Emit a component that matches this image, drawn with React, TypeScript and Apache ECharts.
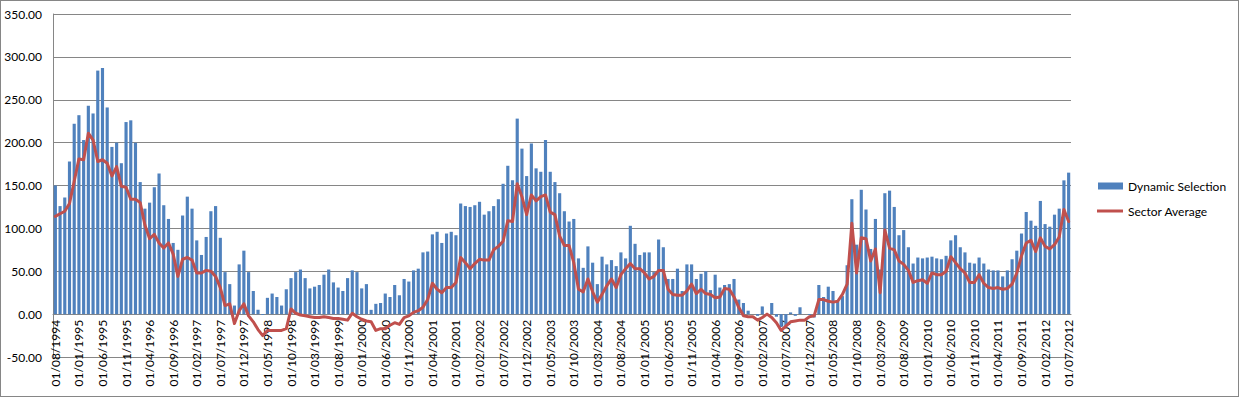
import React, { useEffect, useRef } from "react";
import * as echarts from "echarts";

// Monthly categories from 01/08/1994 to 01/07/2012
const START_YEAR = 1994;
const START_MONTH = 8;
const MONTH_COUNT = 216;
const categories: string[] = [];
for (let i = 0; i < MONTH_COUNT; i++) {
  const m0 = START_MONTH - 1 + i;
  const y = START_YEAR + Math.floor(m0 / 12);
  const m = (m0 % 12) + 1;
  categories.push(`01/${m < 10 ? "0" + m : m}/${y}`);
}

const dynamicSelection: number[] = [
  // 1994-1996
  150, 126, 136, 178, 222, 232, 203, 243, 234, 284, 287, 241, 195, 200, 176, 224, 226, 200, 154, 123, 130, 148, 164, 127, 111, 83,
  // 1996-1998
  75, 115, 137, 123, 86, 69, 90, 120, 126, 89, 49, 35, 10, 58, 74, 49, 27, 5, -1, 19, 24, 20, 10, 29, 42, 49,
  // 1998-2000
  52, 42, 30, 32, 34, 46, 52, 37, 31, 27, 42, 51, 49, 30, 35, 5, 12, 13, 24, 20, 34, 22, 41, 38, 51, 53,
  // 2001-2003
  72, 73, 93, 96, 83, 94, 96, 92, 129, 126, 125, 127, 131, 116, 120, 126, 134, 152, 173, 156, 228, 193, 161, 199, 170, 166,
  // 2003-2005
  203, 166, 154, 141, 120, 108, 111, 65, 54, 79, 60, 35, 67, 58, 63, 56, 72, 65, 103, 82, 69, 72, 72, 49, 87, 78,
  // 2005-2006
  41, 41, 53, 27, 58, 58, 41, 47, 50, 28, 46, 31, 34, 35, 41, 17,
  // 2006-2007
  13, 4, 0, -2, 9, -2, 13, -3, -15, -14, 2, -2, 8, 0, -1, -4,
  // 2007-2009
  34, 20, 32, 27, 15, 21, 57, 134, 81, 145, 122, 76, 111, 52, 141, 144, 125, 92, 98, 78,
  // 2009-2012
  59, 66, 65, 66, 67, 65, 64, 68, 86, 92, 78, 72, 60, 59, 66, 59, 52, 51, 51, 44, 51, 64, 74, 94, 119, 109, 103, 132, 105, 102, 116, 123, 156, 165,
];

const sectorAverage: number[] = [
  114, 117, 120, 129, 155, 181, 180, 211, 203, 178, 180, 176, 161, 172, 149, 148, 134, 134, 130, 104, 88, 93, 83, 77, 83, 70,
  44, 64, 66, 63, 48, 48, 51, 50, 44, 31, 10, 12, -11, 4, 12, -2, -9, -18, -25, -19, -19, -19, -19, -17, 6, 1,
  -1, -2, -3, -4, -4, -3, -4, -5, -5, -6, -7, 1, -3, -6, -8, -9, -19, -17, -17, -13, -10, -12, -4, -2, 2, 4,
  8, 17, 36, 29, 25, 31, 31, 37, 66, 60, 53, 59, 64, 63, 63, 75, 79, 85, 109, 108, 152, 137, 116, 139, 132, 137,
  139, 119, 116, 91, 80, 80, 60, 29, 26, 41, 26, 14, 23, 33, 41, 31, 46, 53, 59, 53, 53, 48, 41, 44, 51, 51,
  29, 23, 22, 22, 27, 35, 24, 29, 24, 23, 19, 20, 30, 29, 20, 8,
  -2, -3, -3, -7, -4, 0, -4, -10, -19, -14, -9, -8, -7, -7, -3, -2,
  17, 17, 15, 14, 15, 23, 35, 106, 48, 89, 88, 62, 76, 25, 98, 77, 75, 62, 58, 51,
  37, 39, 40, 36, 48, 46, 46, 50, 67, 60, 53, 48, 37, 37, 46, 36, 31, 30, 31, 29, 30, 35, 48, 68, 83, 86, 73, 89, 79, 76, 81, 90, 122, 108,
];

const Y_MIN = -50;
const Y_MAX = 350;
const Y_STEP = 50;

const GRID_TOP = 13;
const GRID_BOTTOM = 39;
const CHART_H = 397;

const FONT = "Lato, 'Noto Sans', sans-serif";

export default function App() {
  const ref = useRef<HTMLDivElement>(null);
  useEffect(() => {
    if (!ref.current) return;
    const chart = echarts.init(ref.current, null, { renderer: "svg" });
    const plotH = CHART_H - GRID_TOP - GRID_BOTTOM;
    // distance from the bottom of the plot (min) up to the zero line
    const zeroOffset = (plotH * (0 - Y_MIN)) / (Y_MAX - Y_MIN);
    chart.setOption({
      animation: false,
      backgroundColor: "#ffffff",
      textStyle: { fontFamily: FONT },
      grid: {
        left: 52,
        right: 167,
        top: GRID_TOP,
        bottom: GRID_BOTTOM,
        containLabel: false,
        outerBoundsMode: "none",
      },
      legend: [
        {
          data: [{ name: "Dynamic Selection", icon: "rect" }],
          orient: "vertical",
          left: 1092,
          top: 174,
          itemWidth: 25,
          itemHeight: 7,
          itemGap: 10,
          textStyle: { fontFamily: FONT, fontSize: 12, color: "#000" },
        },
        {
          data: [{ name: "Sector Average", icon: "rect" }],
          orient: "vertical",
          left: 1091,
          top: 199,
          itemWidth: 26,
          itemHeight: 3,
          textStyle: { fontFamily: FONT, fontSize: 12, color: "#000" },
        },
      ],
      xAxis: {
        type: "category",
        data: categories,
        boundaryGap: true,
        position: "bottom",
        offset: -zeroOffset,
        axisLine: { onZero: false, lineStyle: { color: "#868686", width: 1 } },
        axisTick: { show: false },
        axisLabel: {
          interval: 4,
          rotate: 90,
          margin: 6,
          fontFamily: FONT,
          fontSize: 12,
          color: "#000",
        },
        splitLine: { show: false },
      },
      yAxis: {
        type: "value",
        min: Y_MIN,
        max: Y_MAX,
        interval: Y_STEP,
        axisLine: { show: true, lineStyle: { color: "#868686", width: 1 } },
        axisTick: { show: false },
        axisLabel: {
          formatter: (v: number) => v.toFixed(2),
          fontFamily: FONT,
          fontSize: 12,
          color: "#000",
          margin: 11,
        },
        splitLine: { show: true, lineStyle: { color: "#868686", width: 1 } },
      },
      series: [
        {
          name: "Dynamic Selection",
          type: "bar",
          data: dynamicSelection,
          barCategoryGap: "33%",
          itemStyle: { color: "#4F81BD" },
        },
        {
          name: "Sector Average",
          type: "line",
          data: sectorAverage,
          symbol: "none",
          smooth: false,
          lineStyle: { color: "#C0504D", width: 3, join: "round", cap: "round" },
          itemStyle: { color: "#C0504D" },
        },
      ],
    });
    return () => chart.dispose();
  }, []);
  return (
    <div
      ref={ref}
      style={{
        position: "fixed",
        left: 0,
        top: 0,
        width: 1239,
        height: 397,
        boxSizing: "border-box",
        border: "1px solid #868686",
        background: "#fff",
      }}
    />
  );
}
